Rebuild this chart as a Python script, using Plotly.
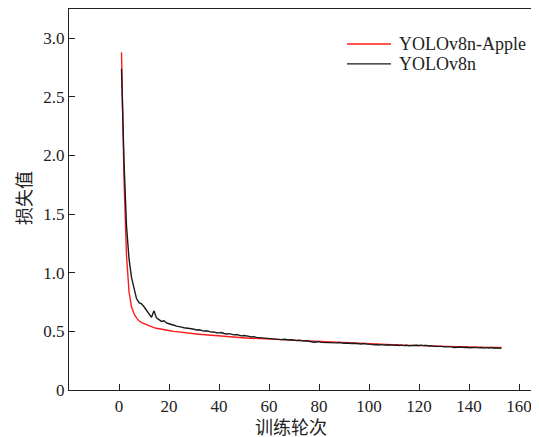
import plotly.graph_objects as go

epochs = list(range(1, 154))

red_loss = [
    2.88, 1.80, 1.15, 0.84, 0.71, 0.65, 0.615, 0.59, 0.575, 0.565,
    0.555, 0.545, 0.538, 0.532, 0.527, 0.522, 0.518, 0.514, 0.510, 0.506,
    0.503, 0.500, 0.497, 0.494, 0.491, 0.488, 0.486, 0.484, 0.482, 0.480,
    0.478, 0.476, 0.474, 0.472, 0.470, 0.468, 0.466, 0.464, 0.462, 0.460,
    0.458, 0.457, 0.455, 0.454, 0.452, 0.451, 0.449, 0.448, 0.446, 0.445,
    0.444, 0.442, 0.441, 0.440, 0.438, 0.437, 0.436, 0.435, 0.433, 0.432,
    0.431, 0.430, 0.429, 0.428, 0.427, 0.426, 0.425, 0.424, 0.423, 0.422,
    0.421, 0.420, 0.419, 0.418, 0.417, 0.416, 0.415, 0.414, 0.413, 0.412,
    0.411, 0.410, 0.409, 0.408, 0.407, 0.406, 0.405, 0.404, 0.403, 0.402,
    0.401, 0.400, 0.399, 0.398, 0.397, 0.396, 0.396, 0.395, 0.394, 0.393,
    0.392, 0.391, 0.391, 0.390, 0.389, 0.388, 0.388, 0.387, 0.386, 0.385,
    0.385, 0.384, 0.383, 0.383, 0.382, 0.381, 0.381, 0.380, 0.379, 0.379,
    0.378, 0.378, 0.377, 0.376, 0.376, 0.375, 0.375, 0.374, 0.373, 0.373,
    0.372, 0.372, 0.371, 0.371, 0.370, 0.370, 0.369, 0.369, 0.368, 0.368,
    0.367, 0.367, 0.366, 0.366, 0.365, 0.365, 0.365, 0.364, 0.364, 0.363,
    0.363, 0.363, 0.362,
]

black_loss = [
    2.74, 1.95, 1.40, 1.12, 0.96, 0.86, 0.78, 0.745, 0.735, 0.71,
    0.68, 0.645, 0.62, 0.675, 0.615, 0.60, 0.585, 0.59, 0.572, 0.565,
    0.556, 0.552, 0.545, 0.543, 0.536, 0.531, 0.530, 0.524, 0.522, 0.518,
    0.512, 0.514, 0.506, 0.502, 0.505, 0.497, 0.494, 0.496, 0.488, 0.487,
    0.490, 0.482, 0.478, 0.481, 0.474, 0.470, 0.473, 0.466, 0.462, 0.465,
    0.458, 0.457, 0.452, 0.455, 0.449, 0.447, 0.450, 0.443, 0.440, 0.442,
    0.437, 0.435, 0.438, 0.432, 0.430, 0.433, 0.427, 0.426, 0.429, 0.423,
    0.421, 0.424, 0.418, 0.417, 0.420, 0.414, 0.412, 0.407, 0.410, 0.413,
    0.406, 0.405, 0.409, 0.403, 0.404, 0.400, 0.402, 0.405, 0.399, 0.398,
    0.401, 0.396, 0.397, 0.399, 0.394, 0.395, 0.392, 0.396, 0.391, 0.393,
    0.389, 0.385, 0.388, 0.384, 0.387, 0.383, 0.386, 0.382, 0.385, 0.381,
    0.384, 0.380, 0.383, 0.379, 0.382, 0.378, 0.381, 0.379, 0.382, 0.380,
    0.383, 0.379, 0.381, 0.376, 0.378, 0.372, 0.374, 0.370, 0.372, 0.368,
    0.369, 0.366, 0.368, 0.363, 0.366, 0.364, 0.367, 0.362, 0.365, 0.361,
    0.363, 0.360, 0.364, 0.359, 0.362, 0.357, 0.361, 0.358, 0.362, 0.356,
    0.360, 0.355, 0.357,
]

series_names = ["YOLOv8n-Apple", "YOLOv8n"]
series_colors = ["#ff1a1a", "#1a1a1a"]

x_ticks = [0, 20, 40, 60, 80, 100, 120, 140, 160]
y_ticks = [0, 0.5, 1.0, 1.5, 2.0, 2.5, 3.0]
y_ticklabels = ["0", "0.5", "1.0", "1.5", "2.0", "2.5", "3.0"]
x_title = "训练轮次"
y_title = "损失值"

serif = "Liberation Serif, Times New Roman, serif"
cjk = "Noto Sans CJK SC"
ink = "#222"

fig = go.Figure()
for name, color, vals in zip(series_names, series_colors, [red_loss, black_loss]):
    fig.add_trace(go.Scatter(x=epochs, y=vals, mode="lines", name=name,
                             line=dict(color=color, width=1.4), showlegend=False))

# manual legend (long line samples like the reference)
legend_rows_y = [0.908, 0.856]
shapes = []
annotations = []
for name, color, ly in zip(series_names, series_colors, legend_rows_y):
    shapes.append(dict(type="line", xref="paper", yref="paper",
                       x0=0.5915, x1=0.6851, y0=ly, y1=ly,
                       line=dict(color=color, width=1.4)))
    annotations.append(dict(text=name, xref="paper", yref="paper", x=0.6979, y=ly,
                            xanchor="left", yanchor="middle", showarrow=False,
                            font=dict(family=serif, size=18, color=ink)))

annotations.append(dict(text=x_title, xref="paper", yref="paper", x=0.472, y=-0.094,
                        xanchor="center", yanchor="middle", showarrow=False,
                        font=dict(family=cjk, size=18, color=ink)))
annotations.append(dict(text=y_title, xref="paper", yref="paper", x=-0.098, y=0.504,
                        xanchor="center", yanchor="middle", showarrow=False, textangle=-90,
                        font=dict(family=cjk, size=18, color=ink)))

fig.update_layout(
    width=531, height=429,
    margin=dict(l=61, r=0, t=1, b=47),
    paper_bgcolor="white", plot_bgcolor="white",
    font=dict(family=serif, size=17, color=ink),
    showlegend=False,
    shapes=shapes,
    annotations=annotations,
    xaxis=dict(range=[-20, 168], tickvals=x_ticks, ticks="inside", ticklen=6,
               tickcolor=ink, showline=True, linecolor=ink, linewidth=1.2,
               mirror=True, showgrid=False, zeroline=False,
               tickfont=dict(family=serif, size=17, color=ink)),
    yaxis=dict(range=[0, 3.25], tickvals=y_ticks, ticktext=y_ticklabels, ticks="inside",
               ticklen=6, tickcolor=ink, showline=True, linecolor=ink, linewidth=1.2,
               mirror=False, showgrid=False, zeroline=False,
               tickfont=dict(family=serif, size=17, color=ink)),
)

fig.write_html("out.html")
